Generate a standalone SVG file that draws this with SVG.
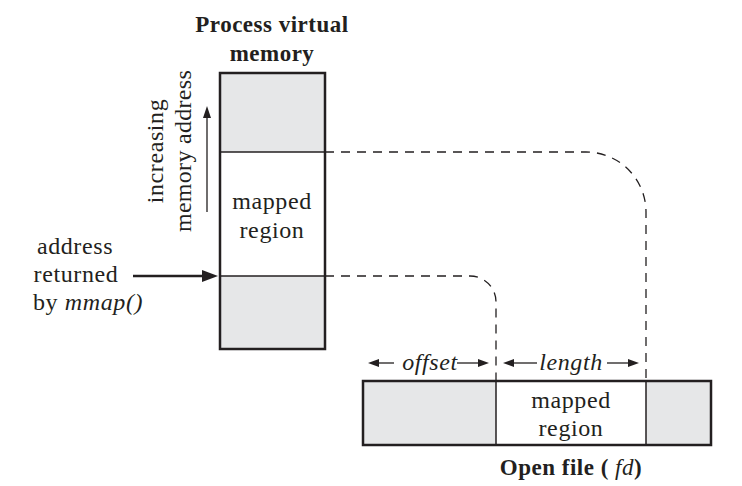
<svg xmlns="http://www.w3.org/2000/svg" width="742" height="486" viewBox="0 0 742 486">
<defs>
<style>
.box{stroke:#231f20;stroke-width:2.5}
.gray{fill:#e6e7e8}
.white{fill:#fff}
.div{stroke:#231f20;stroke-width:1.5;fill:none}
.dash{stroke:#231f20;stroke-width:1.3;fill:none;stroke-dasharray:9,7}
.arr{stroke:#231f20;fill:none}
.head{fill:#231f20}
</style>
</defs>

<g id="process-memory">
<rect class="gray" x="220" y="73" width="105" height="79"/>
<rect class="white" x="220" y="152" width="105" height="124"/>
<rect class="gray" x="220" y="276" width="105" height="73"/>
<line class="div" x1="220" y1="152" x2="325" y2="152"/>
<line class="div" x1="220" y1="276" x2="325" y2="276"/>
<rect class="box" x="220" y="73" width="105" height="276" fill="none"/>
<text x="272" y="32" font-family="Liberation Serif" font-size="23" font-weight="bold" text-anchor="middle" fill="#231f20" letter-spacing="0.5">Process virtual</text>
<text x="272" y="61" font-family="Liberation Serif" font-size="23" font-weight="bold" text-anchor="middle" fill="#231f20" letter-spacing="0.5">memory</text>
<text x="272" y="209" font-family="Liberation Serif" font-size="24" text-anchor="middle" fill="#231f20" letter-spacing="0.6">mapped</text>
<text x="272" y="238" font-family="Liberation Serif" font-size="24" text-anchor="middle" fill="#231f20" letter-spacing="0.6">region</text>
</g>

<g id="increasing-label">
<g transform="translate(163,151) rotate(-90)">
<text x="0" y="0" font-family="Liberation Serif" font-size="24" text-anchor="middle" fill="#231f20" letter-spacing="0.6">increasing</text>
</g>
<g transform="translate(191,151) rotate(-90)">
<text x="0" y="0" font-family="Liberation Serif" font-size="24" text-anchor="middle" fill="#231f20" letter-spacing="0.3">memory address</text>
</g>
</g>

<g id="address-label">
<text x="75" y="254" font-family="Liberation Serif" font-size="24" text-anchor="middle" fill="#231f20" letter-spacing="0.6">address</text>
<text x="76" y="282" font-family="Liberation Serif" font-size="24" text-anchor="middle" fill="#231f20" letter-spacing="0.6">returned</text>
<text x="33" y="310" font-family="Liberation Serif" font-size="24" fill="#231f20" letter-spacing="0.6">by <tspan font-style="italic">mmap()</tspan></text>
</g>

<g id="open-file">
<rect class="gray" x="363" y="381" width="133" height="64"/>
<rect class="white" x="496" y="381" width="150" height="64"/>
<rect class="gray" x="646" y="381" width="65" height="64"/>
<line class="div" x1="496" y1="381" x2="496" y2="445"/>
<line class="div" x1="646" y1="381" x2="646" y2="445"/>
<rect class="box" x="363" y="381" width="348" height="64" fill="none"/>
<text x="571" y="408" font-family="Liberation Serif" font-size="24" text-anchor="middle" fill="#231f20" letter-spacing="0.6">mapped</text>
<text x="571" y="436" font-family="Liberation Serif" font-size="24" text-anchor="middle" fill="#231f20" letter-spacing="0.6">region</text>
<text x="571" y="475" font-family="Liberation Serif" font-size="23" font-weight="bold" text-anchor="middle" fill="#231f20" letter-spacing="0.5">Open file ( <tspan font-style="italic" font-weight="normal">fd</tspan>)</text>
</g>

<g id="offset-label">
<text x="430" y="370" font-family="Liberation Serif" font-size="24" font-style="italic" text-anchor="middle" fill="#231f20" letter-spacing="0.6">offset</text>
</g>
<g id="length-label">
<text x="571" y="370" font-family="Liberation Serif" font-size="24" font-style="italic" text-anchor="middle" fill="#231f20" letter-spacing="0.6">length</text>
</g>

<g id="connectors">
<path class="dash" d="M325,152 H586 A60,60 0 0 1 646,212 V381"/>
<path class="dash" d="M325,276 H470 A26,26 0 0 1 496,302 V381"/>
<line class="arr" stroke-width="1.3" x1="207" y1="212" x2="207" y2="114"/>
<polygon class="head" points="207,106 203,118 211,118"/>
<line class="arr" stroke-width="2.5" x1="133" y1="276" x2="204" y2="276"/>
<polygon class="head" points="218,276 202,270 202,282"/>
<line class="arr" stroke-width="1.3" x1="394" y1="363" x2="376" y2="363"/>
<polygon class="head" points="368,363 379,359 379,367"/>
<line class="arr" stroke-width="1.3" x1="457" y1="363" x2="480" y2="363"/>
<polygon class="head" points="489,363 478,359 478,367"/>
<line class="arr" stroke-width="1.3" x1="537" y1="363" x2="512" y2="363"/>
<polygon class="head" points="503,363 514,359 514,367"/>
<line class="arr" stroke-width="1.3" x1="607" y1="363" x2="630" y2="363"/>
<polygon class="head" points="639,363 628,359 628,367"/>
</g>
</svg>
